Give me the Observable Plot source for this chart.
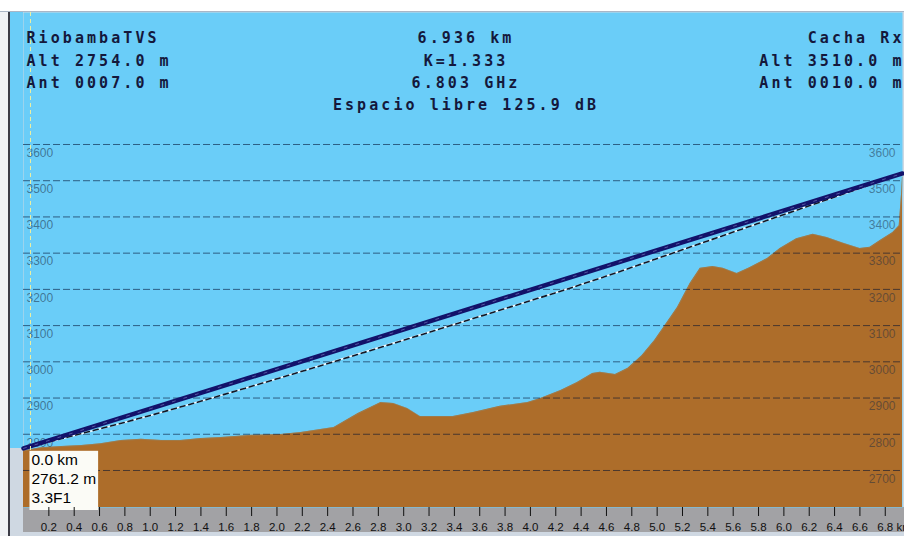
<!DOCTYPE html>
<html><head><meta charset="utf-8">
<script src="https://cdn.jsdelivr.net/npm/d3@7"></script>
<script src="https://cdn.jsdelivr.net/npm/@observablehq/plot@0.6"></script>
<style>
html,body{margin:0;padding:0;background:#fff;}
#chart{width:904px;height:536px;overflow:hidden;}
</style></head><body><div id="chart"></div>
<script>
// ---- data ----
const terrainKm = [0, 0.14, 0.30, 0.46, 0.61, 0.77, 0.93, 1.09, 1.24, 1.40, 1.56, 1.80, 2.03, 2.19, 2.45, 2.64, 2.82, 2.92, 3.03, 3.13, 3.39, 3.55, 3.76, 3.98, 4.08, 4.24, 4.37, 4.49, 4.55, 4.67, 4.77, 4.88, 4.98, 5.08, 5.16, 5.26, 5.34, 5.44, 5.52, 5.63, 5.73, 5.87, 5.97, 6.10, 6.23, 6.34, 6.47, 6.60, 6.68, 6.76, 6.86, 6.91, 6.93, 6.936];
const terrainElev = [2754, 2763, 2766, 2769, 2774, 2783, 2786, 2783, 2783, 2788, 2791, 2797, 2799, 2805, 2819, 2857, 2888, 2885, 2871, 2849, 2849, 2860, 2877, 2888, 2899, 2921, 2943, 2968, 2971, 2965, 2982, 3017, 3059, 3109, 3150, 3216, 3258, 3263, 3258, 3244, 3260, 3285, 3313, 3340, 3352, 3343, 3327, 3313, 3316, 3335, 3357, 3376, 3470, 3510];
const losKm = [0, 6.936];
const losElev = [2761, 3520];
const dashKm = [0, 1.0, 2.19, 3.47, 4.56, 5.22, 5.88, 6.5, 6.936];
const dashElev = [2761, 2852, 2973, 3111, 3232, 3312, 3392, 3467, 3520];
const gridTicks = [2700, 2800, 2900, 3000, 3100, 3200, 3300, 3400, 3500, 3600];
const xTicks = [0.2,0.4,0.6,0.8,1.0,1.2,1.4,1.6,1.8,2.0,2.2,2.4,2.6,2.8,3.0,3.2,3.4,3.6,3.8,4.0,4.2,4.4,4.6,4.8,5.0,5.2,5.4,5.6,5.8,6.0,6.2,6.4,6.6,6.8];
const headerLeft = ["RiobambaTVS", "Alt 2754.0 m", "Ant 0007.0 m"];
const headerCenter = ["6.936 km", "K=1.333", "6.803 GHz", "Espacio libre 125.9 dB"];
const headerRight = ["Cacha Rx", "Alt 3510.0 m", "Ant 0010.0 m"];
const cursorKm = 0.055;
const cursorElev = 2761.2;
const cursorInfo = ["0.0 km", "2761.2 m", "3.3F1"];
const totalKm = 6.936;

// ---- tables ----
const terrain = terrainKm.map((k, i) => ({km: k, elev: terrainElev[i]}));
const los = losKm.map((k, i) => ({km: k, elev: losElev[i]}));
const dashed = dashKm.map((k, i) => ({km: k, elev: dashElev[i]}));
// left labels hidden by the cursor readout box in the reference
const leftTicks = gridTicks.filter(d => d > cursorElev);

const SKY = "#6acdf8", BROWN = "#ad6d2a", INK = "#14183c";
const yDomain = [2597.8, 3964.4];
const headFont = {fontFamily: "DejaVu Sans Mono", fontWeight: "bold", fontSize: 15, fill: INK, lineHeight: 1.487};

const bg = [
  "linear-gradient(#ffffff,#ffffff) 0 0 / 904px 11px no-repeat",
  "linear-gradient(#aab6c6,#aab6c6) 0 11px / 904px 1px no-repeat",
  "linear-gradient(#3c3c46,#3c3c46) 8px 12px / 2px 524px no-repeat",
  "linear-gradient(#f0f2f5,#f0f2f5) 0 12px / 8px 524px no-repeat",
  `linear-gradient(${SKY},${SKY}) 10px 12px / 13px 436px no-repeat`,
  "linear-gradient(#a2a2a5,#a2a2a5) 23px 507px / 881px 25px no-repeat",
  "#cfd8e2"
].join(",");

const plot = Plot.plot({
  width: 904, height: 536,
  marginLeft: 23, marginRight: 2, marginTop: 12, marginBottom: 29,
  x: {domain: [0, totalKm], axis: null, label: null},
  y: {domain: yDomain, axis: null, label: null},
  style: {background: bg, fontFamily: "Liberation Sans, Arial, sans-serif", overflow: "hidden"},
  marks: [
    Plot.frame({fill: SKY, stroke: "none"}),
    Plot.areaY(terrain, {x: "km", y1: yDomain[0], y2: "elev", fill: BROWN}),
    Plot.line(terrain, {x: "km", y: "elev", stroke: "#8f8a70", strokeWidth: 0.8, strokeOpacity: 0.6}),
    Plot.ruleY(gridTicks, {stroke: "#001030", strokeOpacity: 0.58, strokeDasharray: "7,3", strokeWidth: 1}),
    Plot.text(leftTicks, {y: d => d, text: d => String(d), frameAnchor: "left", textAnchor: "start", dx: 3, dy: 8.5, fontSize: 12, fill: "#1a2a40", fillOpacity: 0.55}),
    Plot.text(gridTicks, {y: d => d, text: d => String(d), frameAnchor: "right", textAnchor: "end", dx: -7, dy: 8.5, fontSize: 12, fill: "#1a2a40", fillOpacity: 0.5}),
    Plot.line(dashed, {x: "km", y: "elev", stroke: "#f4fbff", strokeWidth: 1.6, curve: "monotone-x"}),
    Plot.line(dashed, {x: "km", y: "elev", stroke: "#101828", strokeWidth: 1.6, strokeDasharray: "5,4", curve: "monotone-x"}),
    Plot.line(los, {x: "km", y: "elev", stroke: "#12126a", strokeWidth: 4.5}),
    Plot.line(los, {x: "km", y: "elev", stroke: "#7a7ac0", strokeWidth: 0.8, strokeDasharray: "3,9", strokeOpacity: 0.8}),
    Plot.ruleX([cursorKm], {stroke: "#eef0a0", strokeDasharray: "4,3", strokeWidth: 1}),
    Plot.text([cursorInfo.join("\n")], {x: cursorKm, y: cursorElev, text: d => d, textAnchor: "start", lineAnchor: "top", dx: 1, dy: 2.5, fontSize: 15.5, lineHeight: 1.25, fill: "#000"}),
    Plot.axisX(xTicks, {tickSize: 9, tickFormat: () => "", stroke: "#111", label: null}),
    Plot.text(xTicks, {x: d => d, text: d => d === 6.8 ? "6.8 km" : d.toFixed(1), frameAnchor: "bottom", lineAnchor: "top", textAnchor: "start", dx: -8, dy: 15.3, fontSize: 11.5, fill: "#111"}),
    Plot.text([headerLeft.join("\n")], {text: d => d, frameAnchor: "top-left", textAnchor: "start", lineAnchor: "top", dx: 3, dy: 15, ...headFont}),
    Plot.text([headerCenter.join("\n")], {text: d => d, frameAnchor: "top", textAnchor: "middle", lineAnchor: "top", dx: 3, dy: 15, ...headFont}),
    Plot.text([headerRight.join("\n")], {text: d => d, frameAnchor: "top-right", textAnchor: "end", lineAnchor: "top", dx: 2, dy: 15, ...headFont})
  ]
});
document.getElementById("chart").append(plot);

// letter spacing for the wide bitmap-like header font
d3.select(plot).selectAll("text").filter(function () {
  return this.getAttribute("font-family") === "DejaVu Sans Mono" || (this.parentNode && this.parentNode.getAttribute && this.parentNode.getAttribute("font-family") === "DejaVu Sans Mono");
}).style("letter-spacing", "3.07px");

// white box behind the cursor readout
const yScale = plot.scale("y");
const frameBottom = Math.max(...yScale.range);
d3.select(plot).selectAll("text").filter(function () {
  return this.textContent.startsWith(cursorInfo[0]) && this.textContent.includes(cursorInfo[1]);
}).each(function () {
  const b = this.getBBox();
  const tf = this.getAttribute("transform") || "";
  const m = /translate\(\s*([-\d.e]+)[ ,]+([-\d.e]+)\s*\)/.exec(tf);
  const ty = m ? +m[2] : 0;
  const top = yScale.apply(cursorElev) - ty;
  const r = document.createElementNS("http://www.w3.org/2000/svg", "rect");
  r.setAttribute("x", b.x - 2);
  r.setAttribute("y", top);
  r.setAttribute("width", b.width + 4);
  r.setAttribute("height", frameBottom - ty - top);
  r.setAttribute("fill", "#fbfbf6");
  if (tf) r.setAttribute("transform", tf);
  this.parentNode.insertBefore(r, this);
});
</script>
</body></html>
